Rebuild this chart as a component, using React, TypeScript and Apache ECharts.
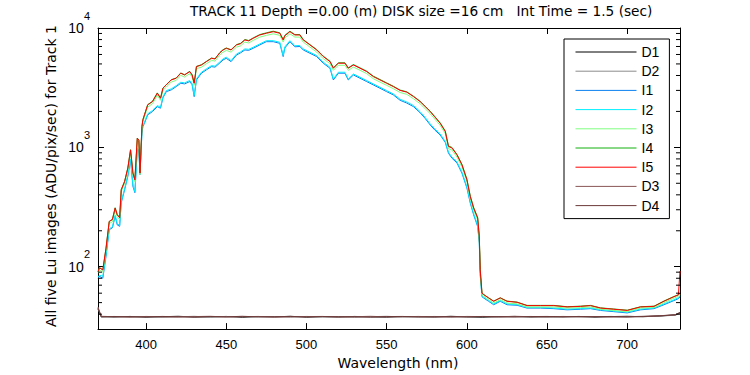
import React, { useEffect, useRef } from "react";
import * as echarts from "echarts";

const FONT = "'Liberation Sans', Arial, sans-serif";
const WIDE_FONT = "'DejaVu Sans', sans-serif";

const titleText = "TRACK 11 Depth =0.00 (m) DISK size =16 cm   Int Time = 1.5 (sec)";
const yLabelText = "All five Lu images (ADU/pix/sec) for Track 1";
const xLabelText = "Wavelength (nm)";

const xMin = 370;
const xMax = 733;
const yMin = 30;
const yMax = 10000;

const wavelengths = [
  370, 371, 373, 375, 377, 379, 380.7, 382, 383.5, 384.5, 386.6, 388.6, 390.3, 391.8, 393, 394.5, 395.5, 396.2,
  397.4, 398, 399, 401, 404, 407, 409, 410.5, 412.6, 415.7, 418.8, 421.6, 424, 427.2, 428.7, 430, 431.4, 434.5,
  437.6, 440.8, 443, 446, 448, 450, 453, 456.4, 459, 461.6, 464, 466.8, 470.9, 475, 479.3, 483.4, 485.5, 486.5,
  489.7, 492.8, 495.9, 498, 502.2, 506.4, 510.5, 514.7, 516.8, 519.9, 524, 526.1, 529.3, 533.4, 537.6, 541.7,
  545.9, 550, 554.2, 558.4, 562.6, 566.8, 570.9, 574, 577.2, 580, 583.4, 586.6, 588.6, 590.7, 593.9, 597, 600.1,
  602.2, 604.3, 606.8, 607.8, 608.4, 609.5, 610.5, 613.6, 616.8, 620.9, 625.1, 631.4, 637.6, 645.9, 654.3, 662.6,
  671, 677.2, 683.4, 691.7, 700.1, 708.4, 716.8, 723, 729.2, 732, 733,
];

const i1 = [
  80, 83, 80, 122, 204, 212, 265, 224, 218, 343, 441, 570, 785, 470, 417, 953, 930, 590,
  1316, 1493, 1593, 1872, 1995, 2192, 2128, 2600, 2930, 3030, 3228, 3445, 3400, 3555, 3350, 2660, 3670, 4180,
  4460, 4745, 4700, 5100, 5400, 5574, 5226, 5942, 6200, 6546, 6500, 6760, 7210, 7680, 7680, 7440, 5760, 6800,
  7680, 6960, 7000, 6546, 6140, 5760, 5070, 4600, 3670, 4180, 4180, 3670, 4040, 3794, 3555, 3335,
  3126, 2930, 2750, 2480, 2350, 2192, 1950, 1750, 1540, 1400, 1270, 1100, 893, 813, 740, 608, 456,
  341, 272, 217, 160, 85, 56, 54.7, 51.3, 48, 51.3, 48, 47.5, 45, 45, 44.5, 43.5,
  44, 44.5, 43, 42, 41, 43.5, 44.5, 48, 52, 54, 56,
];

const i2 = [
  82, 85, 83, 126, 208, 216, 270, 230, 222, 350, 450, 582, 800, 482, 425, 975, 950, 600,
  1340, 1520, 1625, 1910, 2035, 2240, 2170, 2650, 2990, 3090, 3290, 3510, 3470, 3630, 3420, 2720, 3740, 4260,
  4550, 4840, 4790, 5200, 5510, 5690, 5330, 6060, 6320, 6680, 6630, 6900, 7350, 7830, 7830, 7590, 5880, 6940,
  7830, 7100, 7140, 6680, 6260, 5880, 5170, 4690, 3740, 4260, 4260, 3740, 4120, 3870, 3630, 3400,
  3190, 2990, 2800, 2530, 2400, 2240, 1990, 1785, 1570, 1430, 1295, 1120, 910, 830, 755, 620, 465,
  348, 278, 222, 164, 87, 57, 55.5, 52, 48.8, 52, 48.8, 48.2, 45.6, 45.6, 45.1, 44.1,
  44.6, 45.1, 43.6, 42.6, 41.6, 44.1, 45.1, 48.7, 52.8, 55, 57,
];

const i3 = [
  88, 94, 90, 137, 230, 238, 298, 262, 248, 425, 498, 645, 915, 585, 515, 1150, 1105, 590,
  1440, 1640, 1800, 2180, 2320, 2740, 2480, 3000, 3200, 3530, 3640, 4010, 3880, 4140, 3880, 3310, 4560, 4700,
  5020, 5350, 5280, 5950, 6280, 6490, 6280, 6920, 7100, 7620, 7490, 7870, 8390, 8670, 8940, 8670, 7620, 8260,
  8940, 8390, 8390, 7620, 6920, 6280, 5530, 5020, 4420, 4870, 4870, 4420, 4700, 4420, 4140, 3760,
  3520, 3310, 3100, 2880, 2780, 2550, 2320, 2110, 1915, 1730, 1530, 1305, 975, 950, 830, 685, 514,
  372, 298, 246, 173, 90, 58, 56.5, 53, 49.6, 53, 49.6, 48.8, 46, 46, 46, 45,
  45.4, 46, 44, 43, 42, 45, 45.5, 50, 54.5, 56.5, 59,
];

const i4 = [
  91, 98, 94, 143, 240, 250, 312, 274, 258, 442, 520, 672, 955, 610, 536, 1196, 1150, 610,
  1500, 1710, 1880, 2280, 2430, 2860, 2590, 3140, 3350, 3690, 3810, 4200, 4060, 4330, 4060, 3460, 4770, 4920,
  5250, 5600, 5530, 6230, 6580, 6800, 6580, 7260, 7450, 8000, 7860, 8260, 8810, 9110, 9400, 9110, 8000, 8680,
  9400, 8810, 8810, 8000, 7260, 6600, 5810, 5270, 4640, 5110, 5110, 4640, 4940, 4640, 4350, 3950,
  3700, 3470, 3250, 3020, 2920, 2680, 2435, 2215, 2010, 1815, 1605, 1370, 1025, 1000, 872, 720, 540,
  390, 313, 258, 182, 95, 60, 58.6, 54.9, 51.5, 54.9, 51.5, 50.5, 47.4, 47.4, 47.4, 46.2,
  46.7, 47.4, 45.2, 44.2, 43.2, 46.2, 46.7, 51.6, 56.3, 58.3, 60,
];

const i5 = [
  91, 98, 94, 143, 239, 248, 310, 272, 257, 441, 517, 670, 953, 608, 535, 1194, 1150, 608,
  1493, 1700, 1872, 2269, 2418, 2846, 2577, 3126, 3335, 3673, 3794, 4180, 4041, 4310, 4040, 3445, 4745, 4898,
  5226, 5574, 5500, 6200, 6546, 6760, 6546, 7210, 7400, 7940, 7800, 8195, 8740, 9030, 9310, 9030, 7940, 8600,
  9310, 8740, 8740, 7940, 7210, 6546, 5760, 5226, 4600, 5070, 5070, 4600, 4898, 4600, 4310, 3915,
  3670, 3445, 3228, 3000, 2900, 2660, 2418, 2200, 1995, 1800, 1593, 1360, 1016, 990, 865, 714, 535,
  387, 310, 256, 180, 94, 60, 58.4, 54.7, 51.3, 54.7, 51.3, 50.3, 47.2, 47.2, 47.2, 46,
  46.5, 47.2, 45, 44, 43, 46, 46.5, 51.3, 56, 58, 92,
];

const darkWavelengths = [
  370, 372, 380, 390, 400, 410, 420, 430, 440, 450, 460, 470, 480, 490, 500, 510, 520, 530, 540, 550,
  560, 570, 580, 590, 600, 610, 620, 630, 640, 650, 660, 670, 680, 690, 700, 710, 720, 730, 733,
];

const d1 = [
  44, 38.2, 37.9, 38.3, 37.8, 38.1, 38.4, 37.9, 38.0, 38.3, 37.7, 38.2, 38.0, 38.4, 37.8, 38.1, 37.9, 38.3, 38.0, 37.8,
  38.2, 38.1, 37.9, 38.4, 38.0, 37.7, 38.2, 38.3, 37.9, 38.1, 38.0, 38.3, 37.8, 38.2, 38.4, 38.1, 38.6, 39.4, 41.0,
];
const d2 = [
  45, 37.8, 38.3, 37.9, 38.2, 37.7, 38.0, 38.4, 37.8, 38.1, 38.3, 37.9, 38.2, 37.8, 38.3, 38.0, 38.2, 37.7, 38.1, 38.4,
  37.9, 38.0, 38.3, 37.8, 38.2, 38.1, 37.9, 38.0, 38.3, 37.8, 38.2, 37.9, 38.1, 38.0, 37.8, 38.3, 38.5, 39.2, 40.6,
];
const d3 = [
  46, 38.4, 38.1, 37.8, 38.3, 38.0, 37.9, 38.2, 38.4, 37.9, 38.1, 38.3, 37.8, 38.0, 38.2, 38.3, 37.9, 38.1, 38.4, 38.0,
  38.1, 38.3, 38.0, 37.9, 38.3, 38.2, 38.0, 38.4, 38.1, 38.0, 38.3, 38.1, 38.2, 37.9, 38.1, 38.4, 38.8, 39.6, 41.4,
];
const d4 = [
  45, 38.0, 38.2, 38.1, 37.9, 38.3, 38.1, 37.8, 38.2, 38.0, 38.4, 38.0, 38.1, 38.3, 37.9, 38.2, 38.1, 38.0, 37.8, 38.2,
  38.3, 37.9, 38.1, 38.2, 37.9, 38.3, 38.1, 37.9, 38.2, 38.3, 38.0, 38.2, 38.1, 38.3, 38.0, 38.2, 38.7, 39.5, 41.2,
];

const yMinorTicks = [
  40, 50, 60, 70, 80, 90, 200, 300, 400, 500, 600, 700, 800, 900, 2000, 3000, 4000, 5000, 6000, 7000, 8000, 9000,
];

const seriesDefs = [
  { name: "D1", x: darkWavelengths, y: d1, color: "#000000" },
  { name: "D2", x: darkWavelengths, y: d2, color: "#8c8c8c" },
  { name: "I1", x: wavelengths, y: i1, color: "#0a80f0" },
  { name: "I2", x: wavelengths, y: i2, color: "#00f0ff" },
  { name: "I3", x: wavelengths, y: i3, color: "#80ff80" },
  { name: "I4", x: wavelengths, y: i4, color: "#10b010" },
  { name: "I5", x: wavelengths, y: i5, color: "#ff0000" },
  { name: "D3", x: darkWavelengths, y: d3, color: "#8a5555" },
  { name: "D4", x: darkWavelengths, y: d4, color: "#6e3a3a" },
];

export default function App() {
  const ref = useRef<HTMLDivElement>(null);

  useEffect(() => {
    if (!ref.current) return;
    const chart = echarts.init(ref.current, undefined, { renderer: "svg" });

    const axisLine = { show: true, lineStyle: { color: "#000", width: 1 } };
    const xCommon = {
      type: "value",
      min: xMin,
      max: xMax,
      splitNumber: 7,
      axisLine,
      splitLine: { show: false },
      axisTick: { show: true, inside: true, length: 6, lineStyle: { color: "#000" } },
    };
    const yCommon = {
      type: "log",
      logBase: 10,
      min: yMin,
      max: yMax,
      axisLine,
      splitLine: { show: false },
      axisTick: { show: true, inside: true, length: 6, lineStyle: { color: "#000" } },
    };

    const lineSeries = seriesDefs.map((s) => ({
      name: s.name,
      type: "line",
      data: s.x.map((x, i) => [x, s.y[i]]),
      symbol: "none",
      showSymbol: false,
      lineStyle: { color: s.color, width: 1 },
      itemStyle: { color: s.color },
      emphasis: { disabled: true },
      silent: true,
    }));

    chart.setOption({
      animation: false,
      textStyle: { fontFamily: FONT },
      title: {
        text: titleText,
        left: 190,
        top: 4,
        padding: 0,
        textStyle: { fontSize: 13.7, fontWeight: "normal", color: "#000", fontFamily: WIDE_FONT },
      },
      grid: { left: 98, right: 70, top: 28, bottom: 45 },
      legend: {
        data: seriesDefs.map((s) => s.name),
        orient: "vertical",
        left: 564,
        top: 39,
        padding: [6, 10, 6, 11],
        itemWidth: 61,
        itemHeight: 14,
        itemGap: 5.2,
        borderColor: "#000",
        borderWidth: 1,
        borderRadius: 0,
        backgroundColor: "#fff",
        itemStyle: { opacity: 0 },
        lineStyle: { width: 1 },
        textStyle: { fontSize: 14, color: "#000", fontFamily: FONT },
      },
      xAxis: [
        {
          ...xCommon,
          position: "bottom",
          axisLabel: {
            color: "#000",
            fontSize: 13,
            margin: 9,
            showMinLabel: false,
            showMaxLabel: false,
            fontFamily: FONT,
          },
          name: xLabelText,
          nameLocation: "middle",
          nameGap: 25,
          nameTextStyle: { fontSize: 14, color: "#000", fontFamily: WIDE_FONT, padding: [0, 0, 0, 18] },
        },
        {
          ...xCommon,
          position: "top",
          axisLabel: { show: false },
        },
      ],
      yAxis: [
        {
          ...yCommon,
          position: "left",
          axisLabel: {
            showMinLabel: false,
            margin: 8,
            formatter: (v: number) => `{b|10}{e|${Math.round(Math.log10(v))}}`,
            rich: {
              b: { fontSize: 14, lineHeight: 36, color: "#000", fontFamily: FONT },
              e: { fontSize: 11, lineHeight: 12, verticalAlign: "top", color: "#000", fontFamily: FONT },
            },
          },
        },
        {
          ...yCommon,
          position: "right",
          axisLabel: { show: false },
        },
      ],
      graphic: [
        {
          type: "text",
          x: 51,
          y: 176,
          rotation: Math.PI / 2,
          style: {
            text: yLabelText,
            fontSize: 14,
            fontFamily: WIDE_FONT,
            fill: "#000",
            align: "center",
            verticalAlign: "middle",
          },
        },
      ],
      series: [
        ...lineSeries,
        {
          type: "custom",
          name: "minorTicks",
          silent: true,
          clip: false,
          z: 5,
          data: yMinorTicks.map((v) => [xMin, v]),
          renderItem: (_params: any, api: any) => {
            const v = api.value(1);
            const l = api.coord([xMin, v]);
            const r = api.coord([xMax, v]);
            return {
              type: "group",
              children: [
                {
                  type: "line",
                  shape: { x1: l[0], y1: l[1], x2: l[0] + 4, y2: l[1] },
                  style: { stroke: "#000", lineWidth: 1 },
                },
                {
                  type: "line",
                  shape: { x1: r[0] - 4, y1: r[1], x2: r[0], y2: r[1] },
                  style: { stroke: "#000", lineWidth: 1 },
                },
              ],
            };
          },
        },
      ],
    });

    return () => chart.dispose();
  }, []);

  return (
    <div
      ref={ref}
      style={{ position: "absolute", left: 0, top: 0, width: 750, height: 375, background: "#fff" }}
    />
  );
}
